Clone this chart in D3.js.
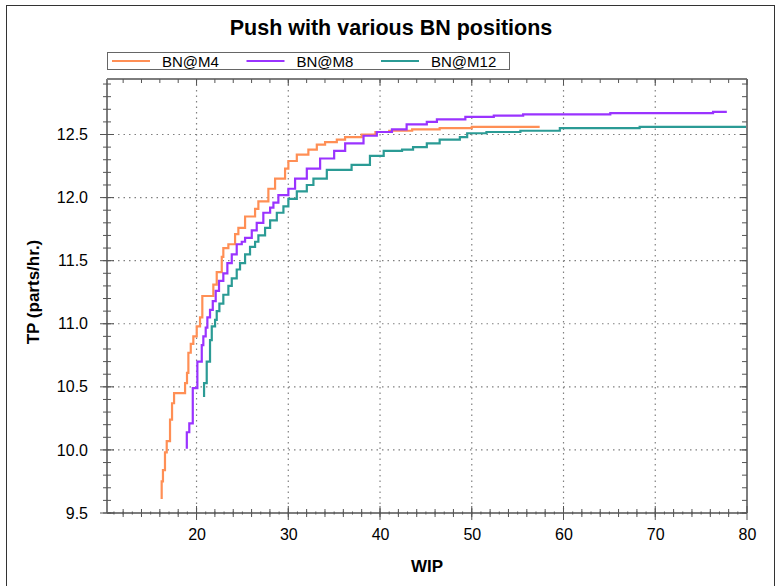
<!DOCTYPE html>
<html>
<head>
<meta charset="utf-8">
<script src="https://cdn.jsdelivr.net/npm/d3@7"></script>
<style>
    body { margin: 0; background: #fff; }
    text { font-family: "Liberation Sans", Arial, sans-serif; fill: #000; }
</style>
</head>
<body>
<div id="chart"></div>
<script>
// series names and colours
var seriesNames = ["BN@M4", "BN@M8", "BN@M12"];
var seriesColors = ["#ff8f55", "#9a33ff", "#2b9b95"];

// BN@M4 : WIP where TP steps, and the new TP value
var m4Wip = [16.20, 16.20, 16.34, 16.56, 16.75, 17.11, 17.33, 17.55, 18.75, 18.96, 19.11, 19.37, 19.65, 20.02, 20.38,
    20.63, 21.83, 22.20, 22.75, 22.92, 23.47, 24.20, 24.56, 25.29, 26.38, 26.74, 27.83, 28.56, 29.65, 30.01,
    30.93, 32.19, 33.11, 34.01, 35.29, 36.19, 38.0, 39.5, 41.0, 43.5, 46.5, 50.0, 53.0, 57.4];
var m4Tp = [9.61, 9.75, 9.84, 9.98, 10.07, 10.24, 10.37, 10.45, 10.53, 10.61, 10.77, 10.84, 10.90, 10.98, 11.05,
    11.22, 11.31, 11.41, 11.53, 11.60, 11.63, 11.71, 11.76, 11.85, 11.91, 11.97, 12.07, 12.15, 12.23, 12.29,
    12.34, 12.38, 12.42, 12.44, 12.46, 12.48, 12.50, 12.52, 12.53, 12.54, 12.55, 12.56, 12.56, 12.56];

// BN@M8
var m8Wip = [18.94, 18.94, 19.21, 19.59, 20.09, 20.57, 20.74, 21.00, 21.18, 21.47, 21.77, 22.09, 22.45, 22.92, 23.36,
    23.84, 24.38, 24.93, 25.29, 26.02, 26.56, 27.28, 28.02, 28.38, 28.92, 30.01, 30.74, 32.02, 33.47, 35.0,
    36.2, 38.2, 39.65, 41.3, 42.9, 45.1, 46.2, 49.3, 52.4, 55.6, 58.9, 65.1, 76.3, 77.8];
var m8Tp = [10.01, 10.14, 10.21, 10.49, 10.70, 10.83, 10.90, 10.97, 11.05, 11.11, 11.18, 11.26, 11.34, 11.40, 11.48,
    11.55, 11.63, 11.65, 11.68, 11.74, 11.80, 11.88, 11.92, 11.96, 12.02, 12.07, 12.15, 12.23, 12.31, 12.37,
    12.43, 12.49, 12.52, 12.54, 12.58, 12.60, 12.62, 12.64, 12.65, 12.66, 12.66, 12.67, 12.68, 12.68];

// BN@M12
var m12Wip = [20.82, 20.82, 21.11, 21.47, 21.66, 22.02, 22.20, 22.49, 22.92, 23.47, 23.84, 24.38, 24.74, 25.29, 25.83,
    26.38, 26.74, 27.47, 28.02, 28.75, 29.47, 30.01, 30.93, 32.02, 32.74, 34.2, 36.9, 38.9, 40.4, 42.4,
    43.6, 45.1, 46.5, 48.7, 49.5, 51.6, 55.3, 59.6, 68.3, 80];
var m12Tp = [10.42, 10.53, 10.70, 10.87, 10.98, 11.03, 11.10, 11.16, 11.23, 11.30, 11.36, 11.43, 11.48, 11.55, 11.61,
    11.65, 11.70, 11.76, 11.82, 11.88, 11.93, 11.99, 12.05, 12.10, 12.15, 12.22, 12.26, 12.33, 12.37, 12.38,
    12.40, 12.43, 12.46, 12.48, 12.51, 12.52, 12.53, 12.55, 12.56, 12.56];

// tick labels
var xTickValues = [20, 30, 40, 50, 60, 70, 80];
var yTickValues = [9.5, 10.0, 10.5, 11.0, 11.5, 12.0, 12.5];

var title = "Push with various BN positions";
var xLabel = "WIP";

drawChart();

function zipSeries(wip, tp) {
    var arr = [];
    for (var i = 0; i < wip.length; i++) {
        arr.push({x: wip[i], y: tp[i]});
    }
    return arr;
}

function drawChart() {
    var svgWidth = 777, svgHeight = 586;
    var plot = {left: 107, right: 747, top: 79, bottom: 513};
    var axisColor = "#7d7d7d";

    var svg = d3.select("#chart").append("svg")
        .attr("width", svgWidth)
        .attr("height", svgHeight);

    // outer frame
    svg.append("rect")
        .attr("x", 6.5).attr("y", 5.5)
        .attr("width", 768).attr("height", 620)
        .attr("fill", "none")
        .attr("stroke", "#333")
        .attr("stroke-width", 1);

    var x = d3.scaleLinear().domain([10.24, 80]).range([plot.left, plot.right]);
    var y = d3.scaleLinear().domain([9.5, 12.94]).range([plot.bottom, plot.top]);

    // dotted grid
    var grid = svg.append("g").attr("class", "grid");
    grid.selectAll("line.gx")
        .data(xTickValues.filter(function (d) { return d < 80; }))
        .enter().append("line")
        .attr("x1", function (d) { return x(d); })
        .attr("x2", function (d) { return x(d); })
        .attr("y1", plot.top).attr("y2", plot.bottom)
        .attr("stroke", "#808080")
        .attr("stroke-width", 1.2)
        .attr("stroke-dasharray", "1.5,4");
    grid.selectAll("line.gy")
        .data(yTickValues.filter(function (d) { return d > 9.5; }))
        .enter().append("line")
        .attr("y1", function (d) { return y(d); })
        .attr("y2", function (d) { return y(d); })
        .attr("x1", plot.left).attr("x2", plot.right)
        .attr("stroke", "#808080")
        .attr("stroke-width", 1.2)
        .attr("stroke-dasharray", "1.5,4");

    // series lines
    var line = d3.line()
        .x(function (d) { return x(d.x); })
        .y(function (d) { return y(d.y); })
        .curve(d3.curveStepAfter);
    var allSeries = [zipSeries(m4Wip, m4Tp), zipSeries(m8Wip, m8Tp), zipSeries(m12Wip, m12Tp)];
    svg.append("g").selectAll("path")
        .data(allSeries)
        .enter().append("path")
        .attr("d", line)
        .attr("fill", "none")
        .attr("stroke", function (d, i) { return seriesColors[i]; })
        .attr("stroke-width", 2.2);

    // plot frame lines
    var frame = svg.append("g").attr("stroke", axisColor).attr("stroke-width", 2);
    frame.append("line").attr("x1", plot.left).attr("x2", plot.right).attr("y1", plot.top).attr("y2", plot.top);
    frame.append("line").attr("x1", plot.left).attr("x2", plot.right).attr("y1", plot.bottom).attr("y2", plot.bottom);
    frame.append("line").attr("x1", plot.left).attr("x2", plot.left).attr("y1", plot.top).attr("y2", plot.bottom);
    frame.append("line").attr("x1", plot.right).attr("x2", plot.right).attr("y1", plot.top).attr("y2", plot.bottom);

    // ticks
    var xMinor = d3.range(12, 80, 2);
    var xTiny = d3.range(11, 80, 1);
    var yMinor = d3.range(95, 130, 1).map(function (d) { return d / 10; });
    var ticks = svg.append("g").attr("stroke", "#555").attr("stroke-width", 1);

    function tickLines(cls, data, x1, x2, y1, y2) {
        ticks.selectAll("line." + cls)
            .data(data)
            .enter().append("line")
            .attr("class", cls)
            .attr("x1", x1).attr("x2", x2)
            .attr("y1", y1).attr("y2", y2);
    }

    // bottom
    tickLines("bt", xTiny, function (d) { return x(d); }, function (d) { return x(d); },
        plot.bottom - 1.5, plot.bottom + 1.5);
    tickLines("bm", xMinor, function (d) { return x(d); }, function (d) { return x(d); },
        plot.bottom - 4, plot.bottom + 4);
    tickLines("bM", xTickValues, function (d) { return x(d); }, function (d) { return x(d); },
        plot.bottom - 7, plot.bottom + 7);
    // top (inward)
    tickLines("tm", xMinor, function (d) { return x(d); }, function (d) { return x(d); },
        plot.top, plot.top + 4);
    tickLines("tM", xTickValues, function (d) { return x(d); }, function (d) { return x(d); },
        plot.top, plot.top + 6);
    // left
    tickLines("lm", yMinor, plot.left - 4, plot.left + 4,
        function (d) { return y(d); }, function (d) { return y(d); });
    tickLines("lM", yTickValues, plot.left - 7, plot.left + 7,
        function (d) { return y(d); }, function (d) { return y(d); });
    // right (inward)
    tickLines("rm", yMinor, plot.right - 5, plot.right,
        function (d) { return y(d); }, function (d) { return y(d); });
    tickLines("rM", yTickValues, plot.right - 7, plot.right,
        function (d) { return y(d); }, function (d) { return y(d); });

    // tick labels through d3 axes
    var xAxis = svg.append("g")
        .attr("transform", "translate(0," + plot.bottom + ")")
        .call(d3.axisBottom(x).tickValues(xTickValues).tickSize(0).tickPadding(16)
            .tickFormat(d3.format("d")));
    var yAxis = svg.append("g")
        .attr("transform", "translate(" + plot.left + ",0)")
        .call(d3.axisLeft(y).tickValues(yTickValues).tickSize(0).tickPadding(19)
            .tickFormat(d3.format(".1f")));
    [xAxis, yAxis].forEach(function (a) {
        a.select(".domain").remove();
        a.selectAll("text")
            .attr("fill", "#000")
            .style("font-size", "16px")
            .style("font-family", "'Liberation Sans', Arial, sans-serif");
    });

    // title
    svg.append("text")
        .attr("x", 391).attr("y", 35)
        .attr("text-anchor", "middle")
        .style("font-size", "21.5px")
        .style("font-weight", "bold")
        .text(title);

    // axis titles
    svg.append("text")
        .attr("x", 427).attr("y", 572)
        .attr("text-anchor", "middle")
        .style("font-size", "17px")
        .style("font-weight", "bold")
        .text(xLabel);

    var yTitle = svg.append("text")
        .attr("transform", "translate(39,292) rotate(-90)")
        .attr("text-anchor", "middle")
        .style("font-size", "17px");
    yTitle.append("tspan").style("font-weight", "bold").text("TP ");
    yTitle.append("tspan").style("font-weight", "bold").text("(parts/hr.)");

    // legend
    var legend = svg.append("g");
    legend.append("rect")
        .attr("x", 107.5).attr("y", 52.5)
        .attr("width", 402).attr("height", 17)
        .attr("fill", "#fff")
        .attr("stroke", "#666");
    var items = legend.selectAll("g.item")
        .data(seriesNames)
        .enter().append("g")
        .attr("transform", function (d, i) {
            return "translate(" + (112 + i * 134.5) + ",61)";
        });
    items.append("line")
        .attr("x1", 0).attr("x2", 38)
        .attr("stroke", function (d, i) { return seriesColors[i]; })
        .attr("stroke-width", 2);
    items.append("text")
        .attr("x", 50).attr("y", 5.5)
        .style("font-size", "15px")
        .text(function (d) { return d; });
}
</script>
</body>
</html>
